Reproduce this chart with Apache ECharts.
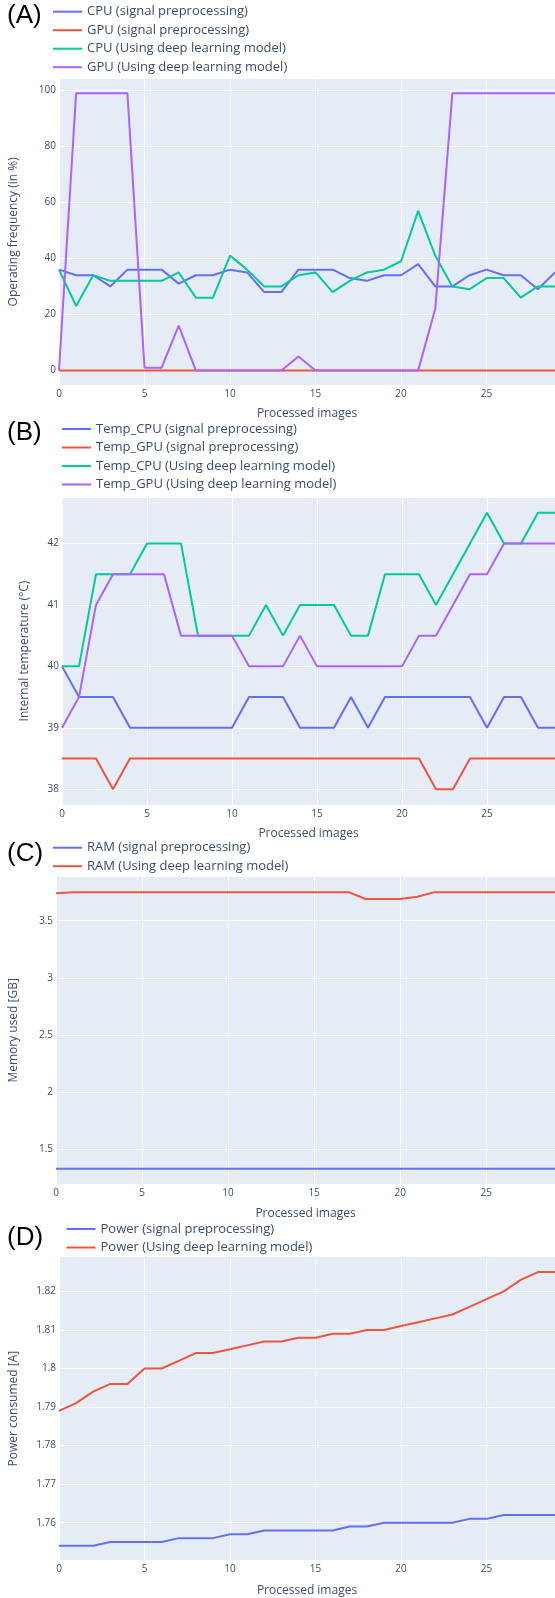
<!DOCTYPE html>
<html>
<head>
<meta charset="utf-8">
<script src="https://cdn.jsdelivr.net/npm/echarts@6/dist/echarts.min.js"></script>
<style>
html, body { margin: 0; padding: 0; background: #fff; }
#chart { width: 555px; height: 1598px; }
</style>
</head>
<body>
<div id="chart"></div>
<script>
var images = [0, 1, 2, 3, 4, 5, 6, 7, 8, 9, 10, 11, 12, 13, 14, 15, 16, 17, 18, 19, 20, 21, 22, 23, 24, 25, 26, 27, 28, 29];

// (A) operating frequency (in %)
var cpuSignal = [36, 34, 34, 30, 36, 36, 36, 31, 34, 34, 36, 35, 28, 28, 36, 36, 36, 33, 32, 34, 34, 38, 30, 30, 34, 36, 34, 34, 29, 35];
var gpuSignal = [0, 0, 0, 0, 0, 0, 0, 0, 0, 0, 0, 0, 0, 0, 0, 0, 0, 0, 0, 0, 0, 0, 0, 0, 0, 0, 0, 0, 0, 0];
var cpuDeep = [36, 23, 34, 32, 32, 32, 32, 35, 26, 26, 41, 36, 30, 30, 34, 35, 28, 32, 35, 36, 39, 57, 41, 30, 29, 33, 33, 26, 30, 30];
var gpuDeep = [0, 99, 99, 99, 99, 1, 1, 16, 0, 0, 0, 0, 0, 0, 5, 0, 0, 0, 0, 0, 0, 0, 22, 99, 99, 99, 99, 99, 99, 99];

// (B) internal temperature (°C)
var tempCpuSignal = [40, 39.5, 39.5, 39.5, 39, 39, 39, 39, 39, 39, 39, 39.5, 39.5, 39.5, 39, 39, 39, 39.5, 39, 39.5, 39.5, 39.5, 39.5, 39.5, 39.5, 39, 39.5, 39.5, 39, 39];
var tempGpuSignal = [38.5, 38.5, 38.5, 38, 38.5, 38.5, 38.5, 38.5, 38.5, 38.5, 38.5, 38.5, 38.5, 38.5, 38.5, 38.5, 38.5, 38.5, 38.5, 38.5, 38.5, 38.5, 38, 38, 38.5, 38.5, 38.5, 38.5, 38.5, 38.5];
var tempCpuDeep = [40, 40, 41.5, 41.5, 41.5, 42, 42, 42, 40.5, 40.5, 40.5, 40.5, 41, 40.5, 41, 41, 41, 40.5, 40.5, 41.5, 41.5, 41.5, 41, 41.5, 42, 42.5, 42, 42, 42.5, 42.5];
var tempGpuDeep = [39, 39.5, 41, 41.5, 41.5, 41.5, 41.5, 40.5, 40.5, 40.5, 40.5, 40, 40, 40, 40.5, 40, 40, 40, 40, 40, 40, 40.5, 40.5, 41, 41.5, 41.5, 42, 42, 42, 42];

// (C) memory used [GB]
var ramSignal = [1.33, 1.33, 1.33, 1.33, 1.33, 1.33, 1.33, 1.33, 1.33, 1.33, 1.33, 1.33, 1.33, 1.33, 1.33, 1.33, 1.33, 1.33, 1.33, 1.33, 1.33, 1.33, 1.33, 1.33, 1.33, 1.33, 1.33, 1.33, 1.33, 1.33];
var ramDeep = [3.74, 3.75, 3.75, 3.75, 3.75, 3.75, 3.75, 3.75, 3.75, 3.75, 3.75, 3.75, 3.75, 3.75, 3.75, 3.75, 3.75, 3.75, 3.69, 3.69, 3.69, 3.71, 3.75, 3.75, 3.75, 3.75, 3.75, 3.75, 3.75, 3.75];

// (D) power consumed [A]
var powerSignal = [1.754, 1.754, 1.754, 1.755, 1.755, 1.755, 1.755, 1.756, 1.756, 1.756, 1.757, 1.757, 1.758, 1.758, 1.758, 1.758, 1.758, 1.759, 1.759, 1.760, 1.760, 1.760, 1.760, 1.760, 1.761, 1.761, 1.762, 1.762, 1.762, 1.762];
var powerDeep = [1.789, 1.791, 1.794, 1.796, 1.796, 1.800, 1.800, 1.802, 1.804, 1.804, 1.805, 1.806, 1.807, 1.807, 1.808, 1.808, 1.809, 1.809, 1.810, 1.810, 1.811, 1.812, 1.813, 1.814, 1.816, 1.818, 1.820, 1.823, 1.825, 1.825];

var BLUE = '#636efa', RED = '#EF553B', GREEN = '#00cc96', PURPLE = '#ab63fa';
var FONT = '"Open Sans", "DejaVu Sans", sans-serif';
var TXT = '#3c4d6b';

var chart = echarts.init(document.getElementById('chart'));

function pairs(vals) {
    return images.map(function (x, i) { return [x, vals[i]]; });
}

function line(name, vals, color, gi) {
    return {
        name: name, type: 'line', xAxisIndex: gi, yAxisIndex: gi,
        data: pairs(vals), symbol: 'none', color: color,
        lineStyle: { width: 2, color: color }, clip: true
    };
}

function xAxisFor(gi, gap) {
    return {
        type: 'value', gridIndex: gi, min: 0, max: 29, interval: 5,
        name: 'Processed images', nameLocation: 'middle', nameGap: gap,
        nameTextStyle: { color: TXT, fontSize: 12, fontFamily: FONT },
        axisLine: { show: false }, axisTick: { show: false },
        axisLabel: { color: TXT, fontSize: 10, fontFamily: FONT, margin: 4, showMaxLabel: false },
        splitLine: { lineStyle: { color: '#fff', width: 1 } }
    };
}

function yAxisFor(gi, name, min, max, step, gap) {
    return {
        type: 'value', gridIndex: gi, min: min, max: max,
        minInterval: step, maxInterval: step,
        name: name, nameLocation: 'middle', nameGap: gap,
        nameTextStyle: { color: TXT, fontSize: 12, fontFamily: FONT },
        axisLine: { show: false }, axisTick: { show: false },
        axisLabel: { color: TXT, fontSize: 10, fontFamily: FONT, margin: 3, showMinLabel: false, showMaxLabel: false },
        splitLine: { lineStyle: { color: '#fff', width: 1 } }
    };
}

function legendFor(left, top, names) {
    return {
        orient: 'vertical', left: left, top: top, padding: 0,
        itemGap: 4.5, itemWidth: 29, itemHeight: 2, icon: 'rect',
        textStyle: { color: TXT, fontSize: 13, fontFamily: FONT, lineHeight: 14 },
        data: names, selectedMode: false
    };
}

function gridFor(left, top, width, height) {
    return {
        left: left, top: top, width: width, height: height,
        show: true, backgroundColor: '#E5ECF6', borderWidth: 0
    };
}

function panelLabel(text, top) {
    return {
        type: 'text', left: 7, top: top,
        style: { text: text, font: '26px "Liberation Sans", Arial, sans-serif', fill: '#000' }
    };
}

var option = {
    animation: false,
    backgroundColor: '#fff',
    grid: [
        gridFor(51.5, 78.7, 506, 306.3),
        gridFor(62, 497, 494.7, 308),
        gridFor(51.3, 876.7, 505.5, 307.3),
        gridFor(57.6, 1256.7, 497.9, 308)
    ],
    xAxis: [xAxisFor(0, 23), xAxisFor(1, 23), xAxisFor(2, 23.5), xAxisFor(3, 24.5)],
    yAxis: [
        yAxisFor(0, 'Operating frequency (in %)', -5.2, 104.2, 20, 39),
        yAxisFor(1, 'Internal temperature (°C)', 37.745, 42.755, 1, 31),
        yAxisFor(2, 'Memory used [GB]', 1.196, 3.885, 0.5, 36),
        yAxisFor(3, 'Power consumed [A]', 1.7502, 1.829, 0.01, 39)
    ],
    legend: [
        legendFor(53, 4.7, ['CPU (signal preprocessing)', 'GPU (signal preprocessing)', 'CPU (Using deep learning model)', 'GPU (Using deep learning model)']),
        legendFor(62, 422, ['Temp_CPU (signal preprocessing)', 'Temp_GPU (signal preprocessing)', 'Temp_CPU (Using deep learning model)', 'Temp_GPU (Using deep learning model)']),
        legendFor(53, 840.7, ['RAM (signal preprocessing)', 'RAM (Using deep learning model)']),
        legendFor(66.5, 1222, ['Power (signal preprocessing)', 'Power (Using deep learning model)'])
    ],
    graphic: [
        panelLabel('(A)', 2.5),
        panelLabel('(B)', 420),
        panelLabel('(C)', 841),
        panelLabel('(D)', 1224.5)
    ],
    series: [
        line('CPU (signal preprocessing)', cpuSignal, BLUE, 0),
        line('GPU (signal preprocessing)', gpuSignal, RED, 0),
        line('CPU (Using deep learning model)', cpuDeep, GREEN, 0),
        line('GPU (Using deep learning model)', gpuDeep, PURPLE, 0),
        line('Temp_CPU (signal preprocessing)', tempCpuSignal, BLUE, 1),
        line('Temp_GPU (signal preprocessing)', tempGpuSignal, RED, 1),
        line('Temp_CPU (Using deep learning model)', tempCpuDeep, GREEN, 1),
        line('Temp_GPU (Using deep learning model)', tempGpuDeep, PURPLE, 1),
        line('RAM (signal preprocessing)', ramSignal, BLUE, 2),
        line('RAM (Using deep learning model)', ramDeep, RED, 2),
        line('Power (signal preprocessing)', powerSignal, BLUE, 3),
        line('Power (Using deep learning model)', powerDeep, RED, 3)
    ]
};

chart.setOption(option);
</script>
</body>
</html>
